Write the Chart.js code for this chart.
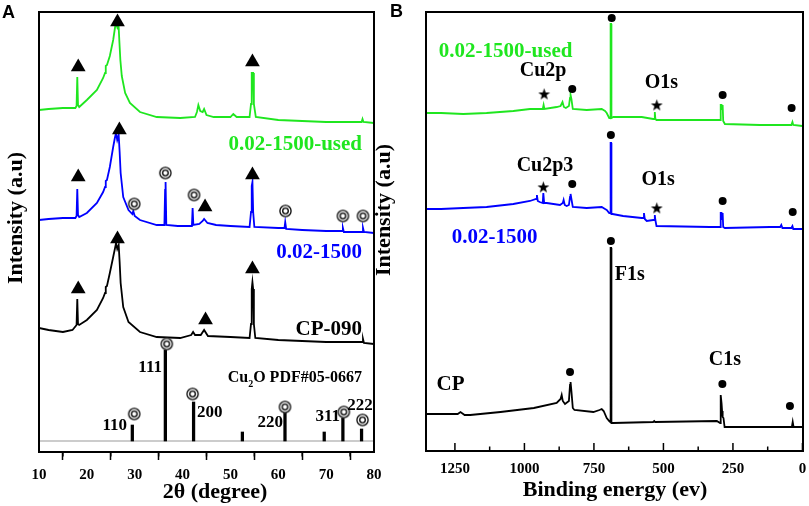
<!DOCTYPE html>
<html>
<head>
<meta charset="utf-8">
<script src="https://cdn.jsdelivr.net/npm/chart.js@4"></script>
<style>
  html, body { margin: 0; padding: 0; background: #fff; }
  #wrap { position: relative; width: 809px; height: 506px; overflow: hidden; }
  #chartA { position: absolute; left: 0; top: 0; width: 400px; height: 506px; }
  #chartB { position: absolute; left: 370px; top: 0; width: 439px; height: 506px; }
</style>
</head>
<body>
<div id="wrap">
  <canvas id="chartA" width="400" height="506"></canvas>
  <canvas id="chartB" width="439" height="506"></canvas>
</div>
<script>
const GREEN = '#1fe61f';
const BLUE = '#0000ff';
const BLACK = '#000000';
const SERIF = '"Liberation Serif", "Times New Roman", serif';

// ---- panel A : XRD ----
const ticksA = [10, 20, 30, 40, 50, 60, 70, 80];
const minorTicksA = [15, 25, 35, 45, 55, 65, 75];

const xrdUsedDeg = [10, 12, 15, 17.6, 17.85, 18.0, 18.15, 18.4, 20.0, 22.1, 23.4, 23.8, 23.95, 24.2, 24.8, 25.5, 25.9, 26.1, 26.35, 26.6, 26.8, 27.0, 27.3, 28.0, 29.0, 31.1, 34.6, 39.5, 42.6, 43.0, 43.3, 43.7, 44.2, 44.5, 45.0, 46.5, 50.0, 50.6, 51.3, 54.0, 54.3, 54.45, 54.75, 54.9, 55.3, 60, 65, 70, 75, 77.4, 77.6, 77.8, 80];
const xrdUsedInt = [342, 343, 344, 344, 346, 375, 347, 345, 352, 362, 374, 379, 386, 387, 396, 412, 425, 429, 425, 429, 410, 392, 376, 359, 349, 340, 335, 334, 335, 340, 347, 341, 340, 343, 337, 335, 335, 338, 335, 335, 348, 379, 379, 348, 335, 332, 331, 330, 330, 330, 333, 330, 329];

const xrdFreshDeg = [10, 12, 15, 17.6, 17.85, 18.0, 18.15, 18.4, 20.0, 22.1, 23.4, 23.8, 23.95, 24.2, 24.8, 25.5, 25.85, 26.1, 26.35, 26.65, 26.85, 27.06, 27.6, 28.7, 29.5, 29.7, 30.0, 31.1, 34.6, 36.2, 36.35, 36.45, 36.6, 39, 41.95, 42.1, 42.25, 43.5, 44.2, 44.5, 45.2, 47, 50, 54.0, 54.3, 54.45, 54.6, 54.75, 55.0, 60, 61.3, 61.45, 61.65, 65, 70, 73.35, 73.5, 73.7, 77.5, 77.7, 77.9, 80];
const xrdFreshInt = [232, 233, 234, 234, 236, 263, 237, 235, 239, 249, 260, 265, 271, 272, 285, 305, 314, 319, 312, 317, 300, 279, 255, 242, 238, 241, 236, 232, 227, 227, 262, 270, 227, 226, 226, 244, 227, 228, 231, 233, 229, 227, 226, 225, 240, 266, 270, 240, 225, 224, 224, 230, 223, 222, 221, 221, 224, 220, 220, 224, 220, 219];

const xrdCpDeg = [10, 12, 15, 17.0, 17.85, 18.0, 18.15, 18.4, 20.0, 22.1, 23.4, 23.8, 23.95, 24.2, 24.8, 25.5, 25.85, 26.1, 26.35, 26.65, 26.85, 27.06, 27.6, 28.7, 31.1, 34.6, 39.5, 41.8, 42.2, 42.6, 43.8, 44.5, 45.3, 50, 54.0, 54.3, 54.45, 54.6, 54.75, 54.9, 55.2, 60, 65, 70, 75, 77.5, 77.7, 77.9, 80];
const xrdCpInt = [124, 122, 120, 122, 127, 153, 128, 127, 132, 142, 154, 159, 165, 166, 179, 195, 203, 209, 203, 207, 190, 169, 145, 130, 120, 115, 114, 117, 120, 117, 117, 122, 116, 115, 114, 128, 163, 170, 163, 128, 114, 112, 111, 110, 110, 110, 113, 109, 108];

const pdfDeg = [29.5, 36.4, 42.3, 52.5, 61.4, 69.6, 73.5, 77.4];
const pdfInt = [27, 102, 50, 20, 40, 20, 34, 23];
const pdfBase = 11;

const triangleDeg = [18.2, 26.4, 54.6, 18.2, 26.8, 44.7, 54.6, 18.2, 26.4, 44.8, 54.6];
const triangleInt = [385, 430, 390, 275, 322, 245, 277, 163, 213, 132, 183];
const ringDeg = [29.9, 36.4, 42.4, 61.5, 73.5, 77.7, 29.9, 36.7, 42.1, 61.4, 73.7, 77.6];
const ringInt = [248, 279, 257, 241, 236, 236, 38, 108, 58, 45, 40, 32];

// ---- panel B : XPS survey ----
const ticksB = [0, 250, 500, 750, 1000, 1250];
const minorTicksB = [125, 375, 625, 875, 1125];

const xpsUsedEv = [1354, 1300, 1220, 1136, 1040, 980, 940, 934, 931, 928, 884, 870, 863, 858, 851, 840, 836, 834, 831, 826, 776, 722, 710, 704, 695, 691, 690, 688, 687, 680, 645, 578, 537, 533, 531, 529, 525, 333, 296, 294, 291, 289, 287, 285, 279, 153, 40, 36, 33, 0];
const xpsUsedInt = [338, 338, 337, 338, 340, 342, 342, 342, 346, 342, 344, 345, 349, 344, 343, 345, 353, 356, 352, 342, 341, 342, 340, 338, 333, 333, 427, 427, 333, 334, 334, 334, 332, 332, 339, 332, 331, 331, 331, 346, 346, 342, 346, 330, 327, 326, 326, 329, 326, 325];

const xpsFreshEv = [1354, 1300, 1220, 1136, 1040, 980, 958, 955, 952, 945, 934, 932, 929, 920, 872, 862, 859, 855, 848, 840, 836, 834, 831, 826, 776, 722, 710, 704, 695, 691, 690, 688, 687, 683, 645, 578, 572, 570, 567, 560, 537, 533, 531, 529, 525, 333, 296, 294, 291, 289, 287, 285, 279, 117, 80, 76, 72, 40, 36, 33, 0];
const xpsFreshInt = [242, 242, 243, 244, 247, 250, 252, 256, 250, 249, 248, 258, 248, 248, 246, 248, 251, 246, 245, 246, 254, 257, 252, 244, 243, 244, 242, 241, 238, 238, 308, 308, 237, 237, 235, 233, 233, 238, 232, 230, 231, 231, 236, 231, 225, 224, 224, 238, 238, 232, 238, 224, 223, 224, 224, 226, 223, 223, 225, 222, 222];

const xpsCpEv = [1354, 1300, 1240, 1230, 1215, 1195, 1086, 966, 884, 870, 866, 862, 854, 840, 836, 834, 831, 826, 820, 752, 730, 722, 715, 704, 695, 691, 690, 688, 687, 680, 537, 533, 530, 308, 296, 294, 291, 289, 287, 284, 280, 45, 38, 35, 32, 0];
const xpsCpInt = [37, 37, 37, 39, 36, 36, 39, 43, 48, 52, 56, 50, 47, 50, 66, 69, 60, 43, 41, 39, 41, 42, 40, 33, 30, 29, 203, 203, 28, 28, 29, 30, 29, 30, 28, 56, 48, 40, 34, 33, 24, 24, 24, 29, 24, 24];

const dotEv = [828, 686, 287, 39, 828, 689, 287, 35, 836, 689, 288, 45];
const dotInt = [362, 433, 356, 343, 267, 316, 250, 239, 79, 210, 67, 45];
const starEv = [929, 524, 932, 524];
const starInt = [357, 346, 264, 243];

// text placed on the plots (positions in axis units, baseline)
const notesA = [
  { parts: [{ t: '0.02-1500-used', size: 21 }], x: 77.5, y: 302, color: GREEN, align: 'right' },
  { parts: [{ t: '0.02-1500', size: 21 }], x: 77.5, y: 194, color: BLUE, align: 'right' },
  { parts: [{ t: 'CP-090', size: 21 }], x: 77.5, y: 117, color: BLACK, align: 'right' },
  { parts: [{ t: 'Cu', size: 16 }, { t: '2', size: 10, dy: 5 }, { t: 'O PDF#05-0667', size: 16 }], x: 77.5, y: 70, color: BLACK, align: 'right' },
  { parts: [{ t: '111', size: 17 }], x: 35.7, y: 80, color: BLACK, align: 'right' },
  { parts: [{ t: '200', size: 17 }], x: 43.0, y: 35, color: BLACK, align: 'left' },
  { parts: [{ t: '110', size: 17 }], x: 28.4, y: 22, color: BLACK, align: 'right' },
  { parts: [{ t: '220', size: 17 }], x: 61.0, y: 25, color: BLACK, align: 'right' },
  { parts: [{ t: '311', size: 17 }], x: 72.9, y: 31, color: BLACK, align: 'right' },
  { parts: [{ t: '222', size: 17 }], x: 74.4, y: 42, color: BLACK, align: 'left' }
];
const notesB = [
  { parts: [{ t: '0.02-1500-used', size: 21 }], x: 1308, y: 394, color: GREEN, align: 'left' },
  { parts: [{ t: 'Cu2p', size: 20 }], x: 933, y: 375, color: BLACK, align: 'center' },
  { parts: [{ t: 'O1s', size: 20 }], x: 507, y: 363, color: BLACK, align: 'center' },
  { parts: [{ t: 'Cu2p3', size: 20 }], x: 926, y: 280, color: BLACK, align: 'center' },
  { parts: [{ t: 'O1s', size: 20 }], x: 519, y: 266, color: BLACK, align: 'center' },
  { parts: [{ t: '0.02-1500', size: 21 }], x: 1261, y: 208, color: BLUE, align: 'left' },
  { parts: [{ t: 'F1s', size: 20 }], x: 675, y: 171, color: BLACK, align: 'left' },
  { parts: [{ t: 'C1s', size: 20 }], x: 279, y: 86, color: BLACK, align: 'center' },
  { parts: [{ t: 'CP', size: 21 }], x: 1316, y: 61, color: BLACK, align: 'left' }
];

const pts = (xs, ys) => xs.map((x, i) => ({ x: x, y: ys[i] }));

// marker images
function ringImage() {
  const c = document.createElement('canvas');
  c.width = 15; c.height = 15;
  const g = c.getContext('2d');
  g.fillStyle = '#fff';
  g.beginPath(); g.arc(7.5, 7.5, 6, 0, Math.PI * 2); g.fill();
  g.strokeStyle = '#000'; g.lineWidth = 1.3;
  g.beginPath(); g.arc(7.5, 7.5, 5.6, 0, Math.PI * 2); g.stroke();
  g.beginPath(); g.arc(7.5, 7.5, 2.8, 0, Math.PI * 2); g.stroke();
  return c;
}
function starImage() {
  const c = document.createElement('canvas');
  c.width = 13; c.height = 13;
  const g = c.getContext('2d');
  g.fillStyle = '#000';
  g.beginPath();
  for (let i = 0; i < 10; i++) {
    const r = i % 2 === 0 ? 6.2 : 2.5;
    const a = -Math.PI / 2 + i * Math.PI / 5;
    const px = 6.5 + r * Math.cos(a), py = 7 + r * Math.sin(a);
    if (i === 0) g.moveTo(px, py); else g.lineTo(px, py);
  }
  g.closePath(); g.fill();
  return c;
}

function curve(xs, ys, color) {
  return { type: 'line', data: pts(xs, ys), borderColor: color, borderWidth: 1.8,
    pointRadius: 0, tension: 0, fill: false, order: 2 };
}

function drawNotes(ctx, notes, xs, ys) {
  ctx.textBaseline = 'alphabetic';
  ctx.textAlign = 'left';
  notes.forEach(n => {
    let w = 0;
    n.parts.forEach(p => { ctx.font = `bold ${p.size}px ${SERIF}`; p.w = ctx.measureText(p.t).width; w += p.w; });
    const px = xs.getPixelForValue(n.x), py = ys.getPixelForValue(n.y);
    let cx = n.align === 'right' ? px - w : n.align === 'center' ? px - w / 2 : px;
    ctx.fillStyle = n.color;
    n.parts.forEach(p => {
      ctx.font = `bold ${p.size}px ${SERIF}`;
      ctx.fillText(p.t, cx, py + (p.dy || 0));
      cx += p.w;
    });
  });
}

function drawFrame(ctx, a) {
  ctx.strokeStyle = '#000';
  ctx.lineWidth = 2;
  ctx.strokeRect(a.left, a.top, a.right - a.left, a.bottom - a.top);
}

function drawYTitle(ctx, text, cx, cy) {
  ctx.save();
  ctx.translate(cx, cy);
  ctx.rotate(-Math.PI / 2);
  ctx.font = `bold 22px ${SERIF}`;
  ctx.fillStyle = '#000';
  ctx.textAlign = 'center';
  ctx.textBaseline = 'middle';
  ctx.fillText(text, 0, 0);
  ctx.restore();
}

const decorA = {
  id: 'decorA',
  afterDraw(chart) {
    const { ctx, chartArea: a, scales: { x, y } } = chart;
    ctx.save();
    ctx.strokeStyle = '#000';
    ctx.lineWidth = 1.5;
    minorTicksA.forEach(v => {
      const px = x.getPixelForValue(v);
      ctx.beginPath(); ctx.moveTo(px, a.bottom); ctx.lineTo(px, a.bottom + 4.5); ctx.stroke();
    });
    drawFrame(ctx, a);
    drawNotes(ctx, notesA, x, y);
    ctx.fillStyle = '#000';
    ctx.textAlign = 'center';
    ctx.font = `bold 22px ${SERIF}`;
    ctx.fillText('2θ (degree)', 215, 498);
    drawYTitle(ctx, 'Intensity (a.u)', 16, 218);
    ctx.textAlign = 'left';
    ctx.font = 'bold 18px "Liberation Sans", Arial, sans-serif';
    ctx.fillText('A', 2, 18);
    ctx.restore();
  }
};

const decorB = {
  id: 'decorB',
  afterDraw(chart) {
    const { ctx, chartArea: a, scales: { x, y } } = chart;
    ctx.save();
    ctx.strokeStyle = '#000';
    ctx.lineWidth = 1.5;
    ticksB.forEach(v => {
      const px = x.getPixelForValue(v);
      ctx.beginPath(); ctx.moveTo(px, a.bottom); ctx.lineTo(px, a.bottom - 8); ctx.stroke();
    });
    minorTicksB.forEach(v => {
      const px = x.getPixelForValue(v);
      ctx.beginPath(); ctx.moveTo(px, a.bottom); ctx.lineTo(px, a.bottom - 4.5); ctx.stroke();
    });
    drawFrame(ctx, a);
    drawNotes(ctx, notesB, x, y);
    ctx.fillStyle = '#000';
    ctx.textAlign = 'center';
    ctx.font = `bold 22px ${SERIF}`;
    ctx.fillText('Binding energy (ev)', 245, 496);
    drawYTitle(ctx, 'Intensity (a.u)', 14, 210);
    ctx.textAlign = 'left';
    ctx.font = 'bold 18px "Liberation Sans", Arial, sans-serif';
    ctx.fillText('B', 20, 17);
    ctx.restore();
  }
};

const tickFont = { family: SERIF, size: 15, weight: 'bold' };

new Chart(document.getElementById('chartA'), {
  type: 'scatter',
  data: {
    datasets: [
      { data: pts(triangleDeg, triangleInt), pointStyle: 'triangle', pointRadius: 8.5,
        backgroundColor: '#000', borderWidth: 0, order: 0, clip: false },
      { data: pts(ringDeg, ringInt), pointStyle: ringImage(), order: 0, clip: false },
      curve(xrdUsedDeg, xrdUsedInt, GREEN),
      curve(xrdFreshDeg, xrdFreshInt, BLUE),
      curve(xrdCpDeg, xrdCpInt, BLACK),
      { type: 'bar', data: pdfDeg.map((d, i) => ({ x: d, y: [pdfBase, pdfInt[i]] })),
        backgroundColor: '#000', barThickness: 2.6, grouped: false, order: 1 },
      { type: 'line', data: pts([10, 80], [pdfBase, pdfBase]), borderColor: '#9a9a9a',
        borderWidth: 1.2, pointRadius: 0, order: 3 }
    ]
  },
  options: {
    responsive: false,
    animation: false,
    events: [],
    layout: { padding: { left: 0, top: 12, right: 26, bottom: 0 } },
    plugins: { legend: { display: false }, tooltip: { enabled: false } },
    scales: {
      x: {
        type: 'linear', min: 10, max: 80, offset: false,
        afterBuildTicks: s => { s.ticks = ticksA.map(v => ({ value: v })); },
        afterFit: s => { s.height = 54; },
        ticks: { font: tickFont, color: '#000', padding: 6, maxRotation: 0, callback: v => String(v) },
        grid: { display: true, drawOnChartArea: false, drawTicks: true, tickLength: 8, tickWidth: 1.5, tickColor: '#000' },
        border: { display: false }
      },
      y: {
        type: 'linear', min: 0, max: 440,
        afterFit: s => { s.width = 39; },
        ticks: { display: false },
        grid: { display: false, drawTicks: false },
        border: { display: false }
      }
    }
  },
  plugins: [decorA]
});

new Chart(document.getElementById('chartB'), {
  type: 'scatter',
  data: {
    datasets: [
      { data: pts(dotEv, dotInt), pointStyle: 'circle', pointRadius: 4,
        backgroundColor: '#000', borderWidth: 0, order: 0, clip: false },
      { data: pts(starEv, starInt), pointStyle: starImage(), order: 0, clip: false },
      curve(xpsUsedEv, xpsUsedInt, GREEN),
      curve(xpsFreshEv, xpsFreshInt, BLUE),
      curve(xpsCpEv, xpsCpInt, BLACK)
    ]
  },
  options: {
    responsive: false,
    animation: false,
    events: [],
    layout: { padding: { left: 0, top: 12, right: 6, bottom: 0 } },
    plugins: { legend: { display: false }, tooltip: { enabled: false } },
    scales: {
      x: {
        type: 'linear', min: -2, max: 1354, reverse: true, offset: false,
        afterBuildTicks: s => { s.ticks = ticksB.map(v => ({ value: v })); },
        afterFit: s => { s.height = 55; },
        ticks: { font: tickFont, color: '#000', padding: 9, maxRotation: 0, callback: v => String(v) },
        grid: { display: false, drawTicks: false },
        border: { display: false }
      },
      y: {
        type: 'linear', min: 0, max: 439,
        afterFit: s => { s.width = 56; },
        ticks: { display: false },
        grid: { display: false, drawTicks: false },
        border: { display: false }
      }
    }
  },
  plugins: [decorB]
});
</script>
</body>
</html>
